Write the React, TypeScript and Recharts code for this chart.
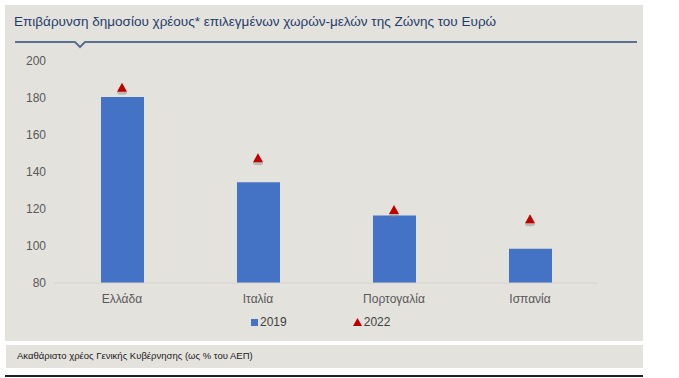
import React from 'react';
import { Bar, ComposedChart, Line, XAxis, YAxis } from 'recharts';

const COUNTRIES = ['Ελλάδα', 'Ιταλία', 'Πορτογαλία', 'Ισπανία'];
const DEBT_2019 = [180.5, 134.5, 116.5, 98.5];
const DEBT_2022 = [185.5, 147.5, 119.5, 114.5];
const Y_TICKS = [80, 100, 120, 140, 160, 180, 200];

const TITLE = 'Επιβάρυνση δημοσίου χρέους* επιλεγμένων χωρών-μελών της Ζώνης του Ευρώ';
const FOOTNOTE = 'Ακαθάριστο χρέος Γενικής Κυβέρνησης (ως % του ΑΕΠ)';

const data = COUNTRIES.map((name, i) => ({ name, y2019: DEBT_2019[i], y2022: DEBT_2022[i] }));

const FONT = '"Liberation Sans", Arial, sans-serif';
const PANEL_BG = '#e4e2dd';
const BAR_COLOR = '#4472c4';
const MARKER_COLOR = '#c00000';
const TICK_STYLE = { fill: '#595959', fontSize: 12, fontFamily: FONT };
const CHART_MARGIN = { top: 61, right: 45, left: 10, bottom: 27 };

// triangle marker with a soft shadow underneath
const TriangleDot = (props: any) => {
    const { cx, cy } = props;
    if (cx == null || cy == null) return null;
    return (
        <g>
            <ellipse cx={cx} cy={cy + 5} rx={5} ry={2} fill="#8a8a8a" opacity={0.45} />
            <polygon points={`${cx},${cy - 5} ${cx + 5},${cy + 4} ${cx - 5},${cy + 4}`} fill={MARKER_COLOR} />
        </g>
    );
};

export default function App() {
    return (
        <div style={{ position: 'absolute', left: 0, top: 0, width: 679, height: 378, background: '#fff', fontFamily: FONT }}>
            <div style={{ position: 'absolute', left: 5, top: 5, width: 638, height: 336, background: PANEL_BG }} />
            <div style={{ position: 'absolute', left: 14, top: 14, fontSize: 13.5, color: '#1f3d6b', whiteSpace: 'nowrap' }}>
                {TITLE}
            </div>
            <svg style={{ position: 'absolute', left: 0, top: 0 }} width={679} height={60}>
                <polyline
                    points="15,42 75,42 80,47 85,42 637,42"
                    fill="none"
                    stroke="#5b7390"
                    strokeWidth={2}
                />
            </svg>
            <div style={{ position: 'absolute', left: 0, top: 0 }}>
                <ComposedChart width={643} height={340} data={data} margin={CHART_MARGIN}>
                    <XAxis
                        dataKey="name"
                        axisLine={{ stroke: '#d4d2cd' }}
                        tickLine={false}
                        tick={TICK_STYLE}
                        tickMargin={5}
                        height={30}
                        interval={0}
                    />
                    <YAxis
                        domain={[80, 200]}
                        ticks={Y_TICKS}
                        axisLine={false}
                        tickLine={false}
                        tick={TICK_STYLE}
                        width={44}
                        interval={0}
                    />
                    <Bar dataKey="y2019" fill={BAR_COLOR} barSize={43} isAnimationActive={false} />
                    <Line
                        dataKey="y2022"
                        stroke="none"
                        dot={<TriangleDot />}
                        activeDot={false}
                        isAnimationActive={false}
                    />
                </ComposedChart>
            </div>
            <div style={{ position: 'absolute', top: 315, left: 251, fontSize: 12, color: '#404040', display: 'flex', alignItems: 'center' }}>
                <span style={{ display: 'inline-block', width: 7, height: 7, background: BAR_COLOR, marginRight: 2 }} />
                <span>2019</span>
                <svg width={9} height={8} style={{ marginLeft: 66, marginRight: 2 }}>
                    <polygon points="4.5,0 9,8 0,8" fill={MARKER_COLOR} />
                </svg>
                <span>2022</span>
            </div>
            <div style={{ position: 'absolute', left: 6, top: 345, width: 637, height: 23, background: PANEL_BG }} />
            <div style={{ position: 'absolute', left: 17, top: 350, fontSize: 9.5, color: '#1a1a1a', whiteSpace: 'nowrap' }}>
                {FOOTNOTE}
            </div>
            <div style={{ position: 'absolute', left: 5, top: 375, width: 638, height: 2, background: '#1b1f2a' }} />
        </div>
    );
}
